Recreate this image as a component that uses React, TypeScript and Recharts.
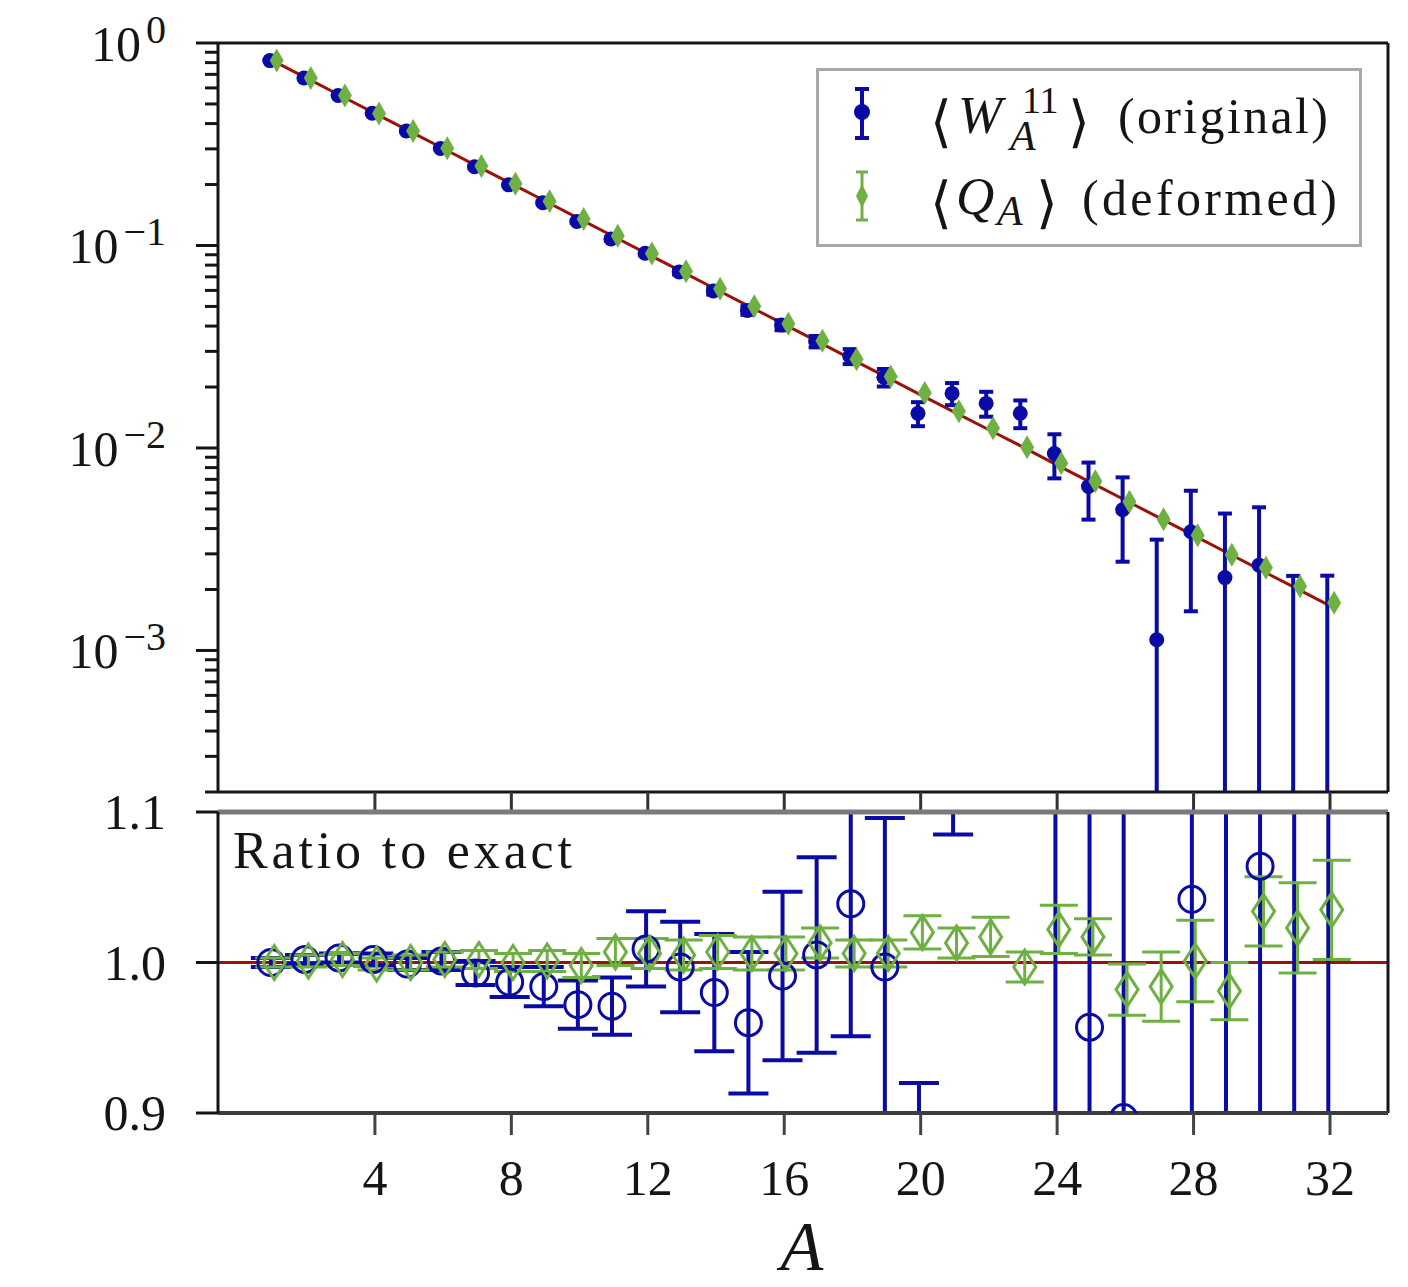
import React from 'react';
import { ComposedChart, Line, Scatter, ErrorBar, XAxis, YAxis, ReferenceLine } from 'recharts';

// subsystem size A
const sizes = [1, 2, 3, 4, 5, 6, 7, 8, 9, 10, 11, 12, 13, 14, 15, 16, 17, 18, 19, 20, 21, 22, 23, 24, 25, 26, 27, 28, 29, 30, 31, 32];

// exact expectation value (red line)
const exactValues = [
  0.8187, 0.6703, 0.5488, 0.4493, 0.3679, 0.3012, 0.2466, 0.2019, 0.1653, 0.1353, 0.1108, 0.0907, 0.0743, 0.0608, 0.0498, 0.0408,
  0.0334, 0.0273, 0.0224, 0.0183, 0.015, 0.0123, 0.0101, 0.00823, 0.00674, 0.00552, 0.00452, 0.0037, 0.00303, 0.00248, 0.00203, 0.00166,
];

// <W^11_A> (original), ratio to exact and its error
const originalRatio = [
  1.0, 1.002, 1.003, 1.002, 0.999, 1.001, 0.993, 0.987, 0.984, 0.972, 0.971, 1.009, 0.997, 0.98, 0.96, 0.991,
  1.005, 1.039, 0.997, 0.81, 1.24, 1.35, 1.47, 1.14, 0.957, 0.897, 0.25, 1.042, 0.756, 1.064, 0.07, 0.09,
];
const originalRatioErr = [
  0.003, 0.003, 0.003, 0.004, 0.004, 0.006, 0.008, 0.01, 0.013, 0.016, 0.019, 0.025, 0.03, 0.039, 0.047, 0.056,
  0.065, 0.088, 0.099, 0.11, 0.155, 0.19, 0.23, 0.28, 0.3, 0.4, 0.53, 0.62, 0.81, 0.99, 1.08, 1.32,
];

// <Q_A> (deformed), ratio to exact and its error
const deformedRatio = [
  1.0, 1.001, 1.002, 0.999, 1.0, 1.002, 1.002, 1.0, 1.001, 0.998, 1.007, 1.006, 1.005, 1.007, 1.006, 1.006,
  1.013, 1.006, 1.006, 1.02, 1.013, 1.017, 0.997, 1.022, 1.017, 0.982, 0.984, 1.001, 0.981, 1.034, 1.023, 1.035,
];
const deformedRatioErr = [
  0.003, 0.004, 0.004, 0.004, 0.005, 0.005, 0.006, 0.006, 0.007, 0.008, 0.009, 0.01, 0.01, 0.011, 0.011, 0.011,
  0.01, 0.009, 0.009, 0.011, 0.01, 0.013, 0.01, 0.016, 0.012, 0.017, 0.023, 0.027, 0.019, 0.023, 0.03, 0.033,
];

const xTicks = [4, 8, 12, 16, 20, 24, 28, 32];
const decadeTicks = [0.001, 0.01, 0.1, 1];
const decadeLabels = ['\u22123', '\u22122', '\u22121', '0'];
const ratioTicks = [0.9, 1.0, 1.1];
const ratioLabels = ['0.9', '1.0', '1.1'];

const BLUE = '#0a0aa6';
const GREEN = '#6fb043';
const RED = '#9c1208';
const INK = '#151515';
const FONT = '"Liberation Serif", "DejaVu Serif", serif';
const X_DOMAIN: [number, number] = [-0.6, 33.7];
const LOG_FLOOR = 1e-5;

// log axis tick positions (minor ticks unlabeled)
const topYTicks: number[] = [];
for (const d of [0.0001, 0.001, 0.01, 0.1]) {
  for (let m = 1; m <= 9; m++) {
    const t = +(d * m).toPrecision(3);
    if (t >= 0.0002) topYTicks.push(t);
  }
}
topYTicks.push(1);

const exactData = sizes.map((a, i) => ({ a, exact: exactValues[i] }));

const topOriginal = sizes.map((a, i) => {
  const v = originalRatio[i] * exactValues[i];
  const e = originalRatioErr[i] * exactValues[i];
  // lower end cannot go below zero on a log axis; keep it far under the visible range
  const low = v - e > LOG_FLOOR ? e : v - LOG_FLOOR;
  return { a: a - 0.08, v, err: [low, e] };
});
const topDeformed = sizes.map((a, i) => {
  const v = deformedRatio[i] * exactValues[i];
  const e = deformedRatioErr[i] * exactValues[i];
  return { a: a + 0.12, v, err: e };
});
const ratioOriginal = sizes.map((a, i) => ({ a: a - 0.05, r: originalRatio[i], err: originalRatioErr[i] }));
const ratioDeformed = sizes.map((a, i) => ({ a: a + 0.05, r: deformedRatio[i], err: deformedRatioErr[i] }));

const TopYTick = (props: any) => {
  const { x, y, payload } = props;
  const idx = decadeTicks.findIndex((d) => Math.abs(d - payload.value) / d < 1e-6);
  const major = idx >= 0;
  return (
    <g>
      <line x1={x - (major ? 22 : 13)} x2={x} y1={y} y2={y} stroke={INK} strokeWidth={3} />
      {major && (
        <text x={x - 52} y={y + 18} textAnchor="end" fontFamily={FONT} fontSize={50} fill={INK}>
          10
          <tspan dx={5} dy={-18} fontSize={40}>
            {decadeLabels[idx]}
          </tspan>
        </text>
      )}
    </g>
  );
};

const TopXTick = (props: any) => {
  const { x, y } = props;
  return <line x1={x} x2={x} y1={y} y2={y + 20} stroke="#333" strokeWidth={3} />;
};

const RatioYTick = (props: any) => {
  const { x, y, payload } = props;
  const idx = ratioTicks.findIndex((t) => Math.abs(t - payload.value) < 1e-6);
  return (
    <g>
      <line x1={x - 22} x2={x} y1={y} y2={y} stroke={INK} strokeWidth={3} />
      <text x={x - 52} y={y + 17} textAnchor="end" fontFamily={FONT} fontSize={50} fill={INK}>
        {ratioLabels[idx]}
      </text>
    </g>
  );
};

const RatioXTick = (props: any) => {
  const { x, y, payload } = props;
  return (
    <g>
      <line x1={x} x2={x} y1={y} y2={y + 22} stroke="#444" strokeWidth={3} />
      <text x={x} y={y + 82} textAnchor="middle" fontFamily={FONT} fontSize={50} fill={INK}>
        {payload.value}
      </text>
    </g>
  );
};

const BlueDot = (p: any) => <circle cx={p.cx} cy={p.cy} r={7.5} fill={BLUE} />;
const GreenDiamond = (p: any) => (
  <polygon points={`${p.cx},${p.cy - 12} ${p.cx + 7},${p.cy} ${p.cx},${p.cy + 12} ${p.cx - 7},${p.cy}`} fill={GREEN} />
);
const BlueRing = (p: any) => <circle cx={p.cx} cy={p.cy} r={13} fill="none" stroke={BLUE} strokeWidth={3} />;
const GreenRing = (p: any) => (
  <polygon
    points={`${p.cx},${p.cy - 17} ${p.cx + 11},${p.cy} ${p.cx},${p.cy + 17} ${p.cx - 11},${p.cy}`}
    fill="none"
    stroke={GREEN}
    strokeWidth={3}
  />
);

// clip the series to the plot rectangles (error bars overflow otherwise)
const clipCss = `
.top-panel .recharts-scatter, .top-panel .recharts-errorBars, .top-panel .recharts-errorBar { clip-path: url(#topPlotClip); }
.ratio-panel .recharts-scatter, .ratio-panel .recharts-errorBars, .ratio-panel .recharts-errorBar { clip-path: url(#ratioPlotClip); }
`;

const ClipDefs = () => (
  <svg width={0} height={0} style={{ position: 'absolute' }}>
    <defs>
      <clipPath id="topPlotClip" clipPathUnits="userSpaceOnUse">
        <rect x={218} y={43} width={1170} height={749} />
      </clipPath>
      <clipPath id="ratioPlotClip" clipPathUnits="userSpaceOnUse">
        <rect x={218} y={52} width={1170} height={301} />
      </clipPath>
    </defs>
  </svg>
);

const TopPanel = () => (
  <ComposedChart width={1408} height={812} margin={{ top: 43, right: 20, bottom: 0, left: 0 }} data={exactData}>
    <XAxis
      dataKey="a"
      type="number"
      domain={X_DOMAIN}
      allowDataOverflow
      ticks={xTicks}
      interval={0}
      tick={TopXTick}
      tickLine={false}
      tickSize={0}
      tickMargin={0}
      height={20}
      axisLine={{ stroke: INK, strokeWidth: 3 }}
    />
    <YAxis
      type="number"
      scale="log"
      domain={[0.0002, 1]}
      allowDataOverflow
      ticks={topYTicks}
      interval={0}
      tick={TopYTick}
      tickLine={false}
      tickSize={0}
      tickMargin={0}
      width={218}
      axisLine={{ stroke: INK, strokeWidth: 3 }}
    />
    <ReferenceLine y={1} stroke={INK} strokeWidth={3} />
    <ReferenceLine x={33.7} stroke={INK} strokeWidth={3} />
    <Line dataKey="exact" stroke={RED} strokeWidth={3} dot={false} isAnimationActive={false} />
    <Scatter data={topOriginal} dataKey="v" shape={BlueDot} isAnimationActive={false}>
      <ErrorBar dataKey="err" direction="y" width={7} stroke={BLUE} strokeWidth={4} isAnimationActive={false} />
    </Scatter>
    <Scatter data={topDeformed} dataKey="v" shape={GreenDiamond} isAnimationActive={false}>
      <ErrorBar dataKey="err" direction="y" width={5} stroke={GREEN} strokeWidth={3} isAnimationActive={false} />
    </Scatter>
  </ComposedChart>
);

const RatioPanel = () => (
  <ComposedChart width={1408} height={527} margin={{ top: 52, right: 20, bottom: 0, left: 0 }}>
    <XAxis
      dataKey="a"
      type="number"
      domain={X_DOMAIN}
      allowDataOverflow
      ticks={xTicks}
      interval={0}
      tick={RatioXTick}
      tickLine={false}
      tickSize={0}
      tickMargin={0}
      height={174}
      axisLine={{ stroke: '#3c3c3c', strokeWidth: 4 }}
    />
    <YAxis
      type="number"
      domain={[0.9, 1.1]}
      allowDataOverflow
      ticks={ratioTicks}
      interval={0}
      tick={RatioYTick}
      tickLine={false}
      tickSize={0}
      tickMargin={0}
      width={218}
      axisLine={{ stroke: INK, strokeWidth: 3 }}
    />
    <ReferenceLine y={1} stroke={RED} strokeWidth={3} />
    <Scatter data={ratioOriginal} dataKey="r" shape={BlueRing} isAnimationActive={false}>
      <ErrorBar dataKey="err" direction="y" width={20} stroke={BLUE} strokeWidth={4} isAnimationActive={false} />
    </Scatter>
    <Scatter data={ratioDeformed} dataKey="r" shape={GreenRing} isAnimationActive={false}>
      <ErrorBar dataKey="err" direction="y" width={19} stroke={GREEN} strokeWidth={3} isAnimationActive={false} />
    </Scatter>
    <ReferenceLine y={1.1} stroke="#7a7a7a" strokeWidth={5} />
    <ReferenceLine x={33.7} stroke={INK} strokeWidth={3} />
  </ComposedChart>
);

const Overlay = () => (
  <svg width={1408} height={1287} style={{ position: 'absolute', left: 0, top: 0, pointerEvents: 'none' }}>
    {/* legend */}
    <rect x={817.5} y={69.5} width={543} height={176} fill="#fff" stroke="#a8a8a8" strokeWidth={3} />
    <line x1={862} x2={862} y1={89} y2={138} stroke={BLUE} strokeWidth={4} />
    <line x1={855} x2={869} y1={89} y2={89} stroke={BLUE} strokeWidth={4} />
    <line x1={855} x2={869} y1={138} y2={138} stroke={BLUE} strokeWidth={4} />
    <circle cx={862} cy={112} r={8} fill={BLUE} />
    <line x1={862} x2={862} y1={172} y2={220} stroke={GREEN} strokeWidth={3} />
    <line x1={856} x2={868} y1={172} y2={172} stroke={GREEN} strokeWidth={3} />
    <line x1={856} x2={868} y1={220} y2={220} stroke={GREEN} strokeWidth={3} />
    <polygon points="862,184 868,196 862,208 856,196" fill={GREEN} />
    <g fontFamily={FONT} fill={INK}>
      <text x={930} y={141} fontSize={56}>{'\u27e8'}</text>
      <text x={958} y={133} fontSize={53} fontStyle="italic">W</text>
      <text x={1022} y={113} fontSize={38}>11</text>
      <text x={1010} y={150} fontSize={42} fontStyle="italic">A</text>
      <text x={1068} y={141} fontSize={56}>{'\u27e9'}</text>
      <text x={1118} y={133} fontSize={50} textLength={210} lengthAdjust="spacing">(original)</text>
      <text x={930} y={222} fontSize={56}>{'\u27e8'}</text>
      <text x={956} y={214} fontSize={53} fontStyle="italic">Q</text>
      <text x={997} y={225} fontSize={42} fontStyle="italic">A</text>
      <text x={1036} y={222} fontSize={56}>{'\u27e9'}</text>
      <text x={1082} y={215} fontSize={50} textLength={255} lengthAdjust="spacing">(deformed)</text>
      <text x={233} y={868} fontSize={52} textLength={339} lengthAdjust="spacing">Ratio to exact</text>
      <text x={802} y={1270} fontSize={70} fontStyle="italic" textAnchor="middle">A</text>
    </g>
  </svg>
);

export default function App() {
  return (
    <div style={{ position: 'absolute', left: 0, top: 0, width: 1408, height: 1287, background: '#fff', overflow: 'hidden' }}>
      <style>{clipCss}</style>
      <ClipDefs />
      <div className="top-panel" style={{ position: 'absolute', left: 0, top: 0 }}>
        <TopPanel />
      </div>
      <div className="ratio-panel" style={{ position: 'absolute', left: 0, top: 760 }}>
        <RatioPanel />
      </div>
      <Overlay />
    </div>
  );
}
